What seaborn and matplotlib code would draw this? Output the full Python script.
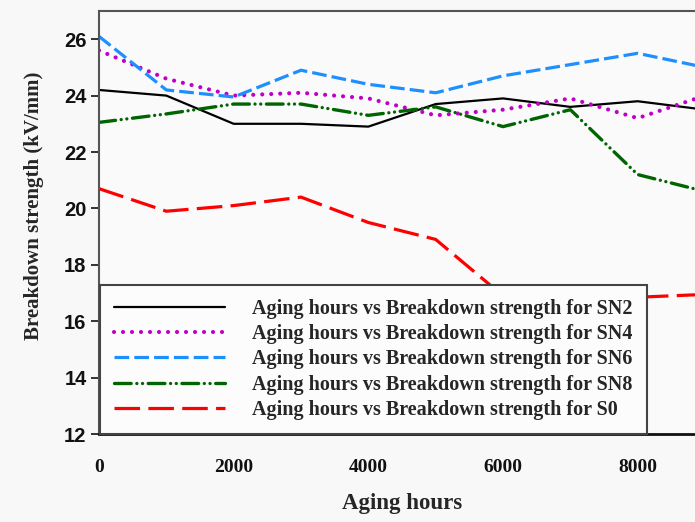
import matplotlib
matplotlib.use("Agg")
import matplotlib.pyplot as plt
import seaborn as sns
import pandas as pd

hours = [0, 1000, 2000, 3000, 4000, 5000, 6000, 7000, 8000, 9000]
sn2 = [24.2, 24.0, 23.0, 23.0, 22.9, 23.7, 23.9, 23.6, 23.8, 23.5]
sn4 = [25.6, 24.6, 24.0, 24.1, 23.9, 23.3, 23.5, 23.9, 23.2, 24.0]
sn6 = [26.1, 24.2, 23.95, 24.9, 24.4, 24.1, 24.7, 25.1, 25.5, 25.0]
sn8 = [23.05, 23.35, 23.7, 23.7, 23.3, 23.6, 22.9, 23.5, 21.2, 20.6]
s0 = [20.7, 19.9, 20.1, 20.4, 19.5, 18.9, 16.9, 16.8, 16.85, 16.95]

labels = [
    "Aging hours vs Breakdown strength for SN2",
    "Aging hours vs Breakdown strength for SN4",
    "Aging hours vs Breakdown strength for SN6",
    "Aging hours vs Breakdown strength for SN8",
    "Aging hours vs Breakdown strength for S0",
]
series = [sn2, sn4, sn6, sn8, s0]
colors = ["#000000", "#c000c8", "#1e8fff", "#006400", "#ff0000"]
widths = [1.6, 3.0, 2.3, 2.4, 2.3]
styles = ["-", (0, (0.01, 2.15)), (0, (4.6, 1.6)), (0, (5.0, 1.7, 0.01, 1.7, 0.01, 1.7)), (0, (8.0, 2.6))]
caps = ["butt", "round", "butt", "round", "butt"]

xticks = [0, 2000, 4000, 6000, 8000]
yticks = [12, 14, 16, 18, 20, 22, 24, 26]

sns.set_theme(style="white")
plt.rcParams["font.family"] = ["Liberation Serif", "DejaVu Serif"]

fig = plt.figure(figsize=(6.95, 5.22), dpi=100, facecolor="#f8f8f8")
ax = fig.add_axes([99 / 695, 1 - 434 / 522, (705 - 99) / 695, (434 - 11) / 522])
ax.set_facecolor("#fafafa")

for vals, lab, c, lw, ls in zip(series, labels, colors, widths, styles):
    df = pd.DataFrame({"hours": hours, "bd": vals})
    sns.lineplot(data=df, x="hours", y="bd", ax=ax, color=c, lw=lw, linestyle=ls, label=lab, legend=False)

for ln, cap in zip(ax.lines, caps):
    ln.set_dash_capstyle(cap)

ax.set_xlim(0, 9000)
ax.set_ylim(12, 27)
ax.set_xticks(xticks)
ax.set_yticks(yticks)
ax.set_xticklabels([str(t) for t in xticks], fontsize=14, fontweight="bold", family="Liberation Serif")
ax.set_yticklabels([str(t) for t in yticks], fontsize=14.5, fontweight="bold", family="Liberation Sans")
ax.tick_params(axis="x", direction="in", length=6, width=1.2, pad=18, colors="#111111")
ax.tick_params(axis="y", direction="out", length=6, width=1.2, pad=3, colors="#111111")
ax.tick_params(left=True, bottom=True)

for side in ["left", "top"]:
    ax.spines[side].set_color("#555555")
    ax.spines[side].set_linewidth(1.5)
ax.spines["bottom"].set_color("#111111")
ax.spines["bottom"].set_linewidth(2)
ax.spines["right"].set_visible(False)

ax.set_xlabel("Aging hours", fontsize=16.5, fontweight="bold", labelpad=12)
ax.set_ylabel("Breakdown strength (kV/mm)", fontsize=15, fontweight="bold")
ax.yaxis.set_label_coords(-0.09, 0.539)

leg = ax.legend(handles=ax.lines, labels=labels, loc="lower left", bbox_to_anchor=(0.002, 0.0),
                borderaxespad=0, handlelength=5.52, handletextpad=1.34,
                labelspacing=0.26, borderpad=0.7, frameon=True, fancybox=False,
                prop={"family": "Liberation Serif", "weight": "bold", "size": 14.5})
leg.get_frame().set_edgecolor("#444444")
leg.get_frame().set_linewidth(1.5)
leg.get_frame().set_facecolor("#fcfcfc")
leg.get_frame().set_alpha(1)

fig.savefig("out.png", dpi=100, facecolor=fig.get_facecolor())
